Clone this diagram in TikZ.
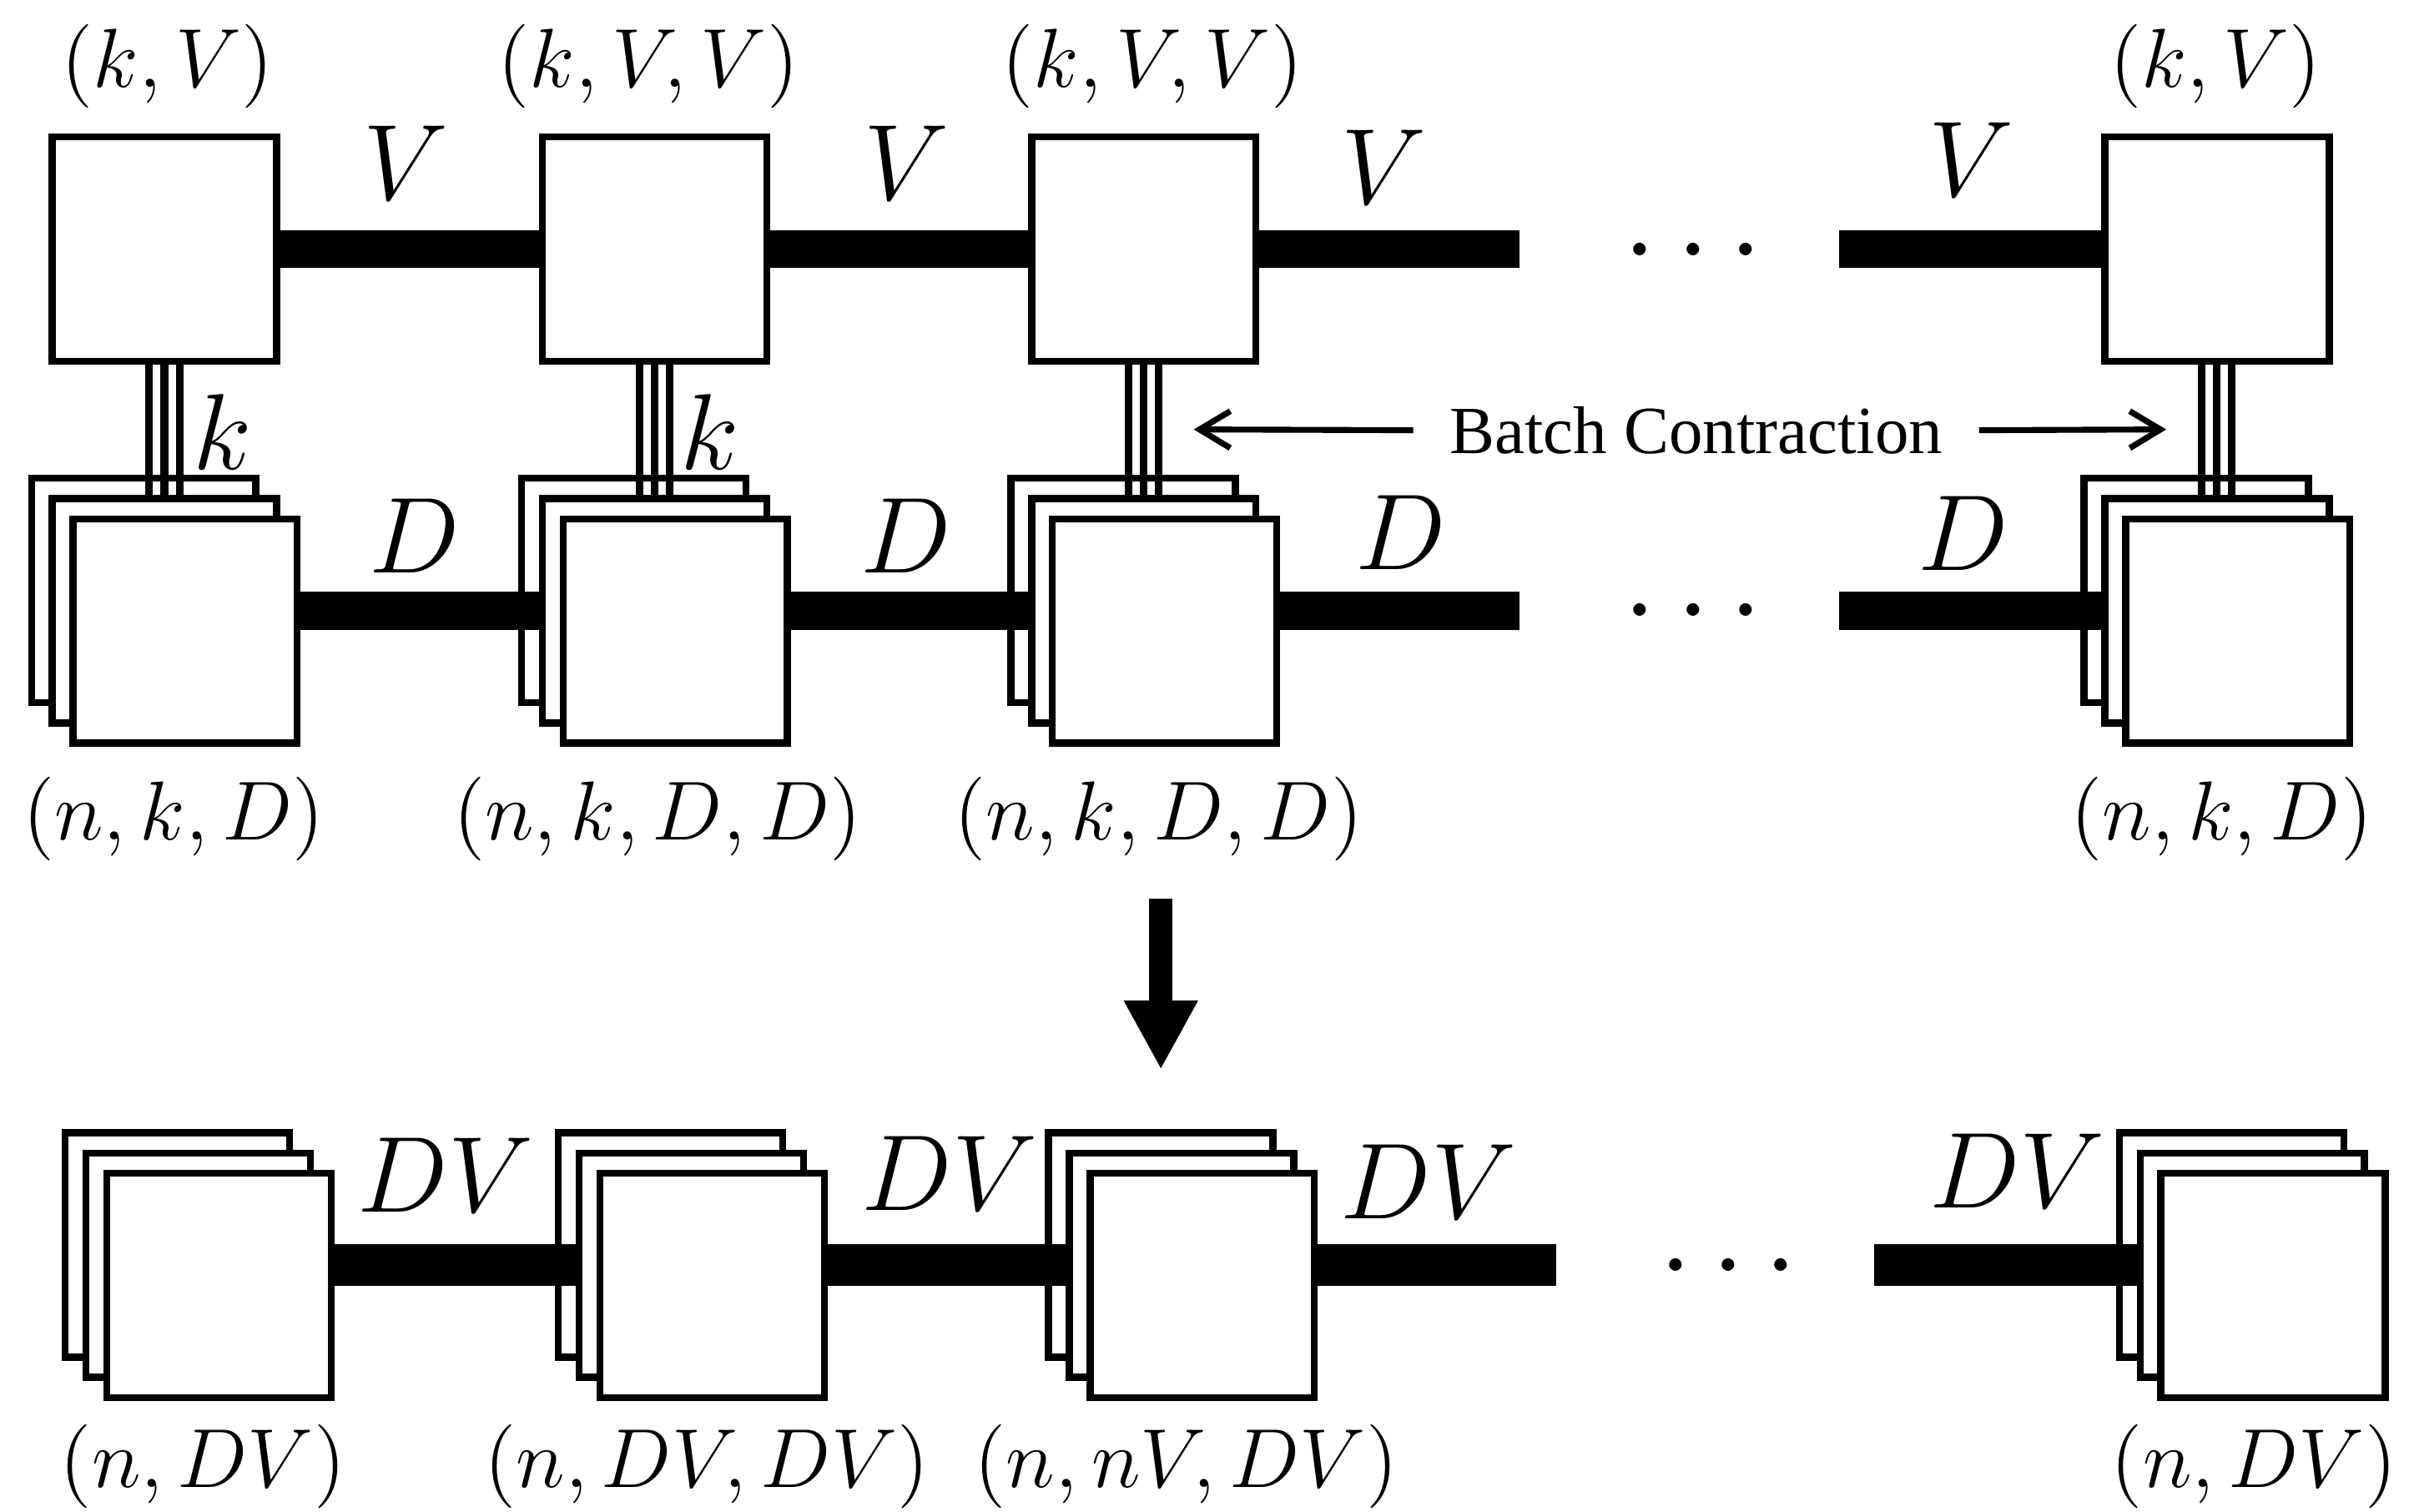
\documentclass[tikz,border=0pt]{standalone}
\usepackage{fix-cm}
\usepackage{fontspec}
\newfontfamily\capfont{Liberation Serif}
\usetikzlibrary{arrows.meta,calc}

\tikzset{
  core/.style={draw, line width=1.3pt, fill=white, inner sep=0pt,
    minimum width=1.46cm, minimum height=1.46cm},
  bond/.style={line width=7pt},
  wbond/.style={line width=7.7pt},
  leg/.style={line width=1.4pt},
  dimlab/.style={font=\fontsize{20}{24}\selectfont, inner sep=0pt},
  shapelab/.style={font=\fontsize{15.5}{18}\selectfont, inner sep=0pt},
  dots/.style={font=\fontsize{22}{26}\selectfont, anchor=base, yshift=-0.194cm, inner sep=0pt},
  thinarr/.style={-{Straight Barb[length=2mm,width=2.4mm]}, line width=1.1pt},
  bigarr/.style={-{Triangle[length=4.5mm,width=4.5mm]}, line width=4.3pt}
}

\begin{document}
\begin{tikzpicture}
  \useasboundingbox (0,0) rectangle (15.68,-9.836);

  % cores of the first train, with their batches below
  \foreach \n/\x in {1/1.07,2/4.26,3/7.445,4/14.43} {
    \node[core] (top\n) at (\x,-1.62) {};
    \node[core] (bk\n) at (\x-0.135,-3.843) {};
    \node[core] (mid\n) at (\x,-3.975) {};
    \node[core] (frt\n) at (\x+0.135,-4.107) {};
    \foreach \d in {-0.098,0,0.098}
      \draw[leg] ([xshift=\d cm]top\n.south) -- ([xshift=\d cm]mid\n.north);
  }

  % merged train
  \foreach \n/\x in {1/1.29,2/4.50,3/7.69,4/14.66} {
    \node[core] (cbk\n) at (\x-0.135,-8.103) {};
    \node[core] (cmid\n) at (\x,-8.235) {};
    \node[core] (cfrt\n) at (\x+0.135,-8.367) {};
  }

  % bonds
  \coordinate (vend) at (9.89,-1.62);
  \coordinate (vbeg) at (11.97,-1.62);
  \coordinate (dend) at (9.89,-3.975);
  \coordinate (dbeg) at (11.97,-3.975);
  \coordinate (cend) at (10.13,-8.235);
  \coordinate (cbeg) at (12.20,-8.235);
  \draw[bond] (top1.east) -- (top2.west);
  \draw[bond] (top2.east) -- (top3.west);
  \draw[bond] (top3.east) -- (vend);
  \draw[bond] (vbeg) -- (top4.west);
  \draw[bond] (frt1.east |- mid1) -- (mid2.west);
  \draw[bond] (frt2.east |- mid2) -- (mid3.west);
  \draw[bond] (frt3.east |- mid3) -- (dend);
  \draw[bond] (dbeg) -- (mid4.west);
  \draw[wbond] (cfrt1.east |- cmid1) -- (cmid2.west);
  \draw[wbond] (cfrt2.east |- cmid2) -- (cmid3.west);
  \draw[wbond] (cfrt3.east |- cmid3) -- (cend);
  \draw[wbond] (cbeg) -- (cmid4.west);

  \node[dots] (dtop) at (11.02,-1.62) {$\cdots$};
  \node[dots] (dmid) at (11.02,-3.97) {$\cdots$};
  \node[dots] (dbot) at (11.25,-8.23) {$\cdots$};

  % bond labels
  \foreach \n/\x/\y in {1/2.64/-1.06,2/5.90/-1.06,3/9.01/-1.09,4/12.83/-1.04}
    \node[dimlab] (lv\n) at (\x,\y) {$V$};
  \foreach \n/\x/\y in {1/2.70/-3.49,2/5.90/-3.49,3/9.12/-3.465,4/12.78/-3.47}
    \node[dimlab] (ld\n) at (\x,\y) {$D$};
  \foreach \n/\x/\y in {1/2.90/-7.65,2/6.18/-7.64,3/9.30/-7.69,4/13.13/-7.62}
    \node[dimlab] (ldv\n) at (\x,\y) {$DV$};
  \node[dimlab] (lk1) at (1.45,-2.81) {$k$};
  \node[dimlab] (lk2) at (4.62,-2.81) {$k$};

  % shapes
  \foreach \n/\x/\t in {1/1.09/{(k,V)},2/4.22/{(k,V,V)},3/7.50/{(k,V,V)},4/14.42/{(k,V)}}
    \node[shapelab] (st\n) at (\x,-0.43) {$\t$};
  \foreach \n/\x/\t in {1/1.13/{(n,k,D)},2/4.28/{(n,k,D,D)},3/7.54/{(n,k,D,D)},4/14.46/{(n,k,D)}}
    \node[shapelab] (sm\n) at (\x,-5.33) {$\t$};
  \foreach \n/\x/\t in {1/1.32/{(n,DV)},2/4.60/{(n,DV,DV)},3/7.72/{(n,nV,DV)},4/14.67/{(n,DV)}}
    \node[shapelab] (sb\n) at (\x,-9.545) {$\t$};

  % batch contraction
  \node[font=\capfont\fontsize{12.5}{15}\selectfont, inner xsep=0.23cm] (bc) at (11.04,-2.80) {Batch Contraction};
  \coordinate (bcl) at (7.77,-2.795);
  \coordinate (bcr) at (14.10,-2.795);
  \draw[thinarr] (bc.west) -- (bcl);
  \draw[thinarr] (bc.east) -- (bcr);

  \coordinate (arra) at (7.556,-5.848);
  \coordinate (arrb) at (7.556,-6.962);
  \draw[bigarr] (arra) -- (arrb);
\end{tikzpicture}
\end{document}
